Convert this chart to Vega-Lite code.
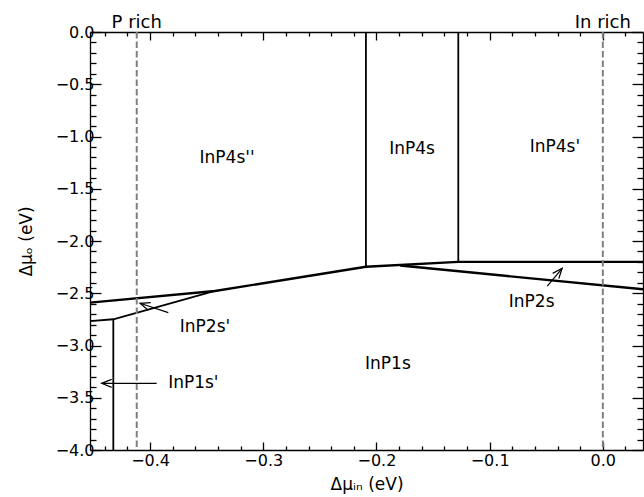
{
  "$schema": "https://vega.github.io/schema/vega-lite/v6.json",
  "width": 553,
  "height": 418,
  "autosize": {"type": "none"},
  "padding": {"left": 90, "top": 32, "right": 1, "bottom": 47},
  "config": {
    "font": "DejaVu Sans",
    "view": {"stroke": null},
    "axis": {
      "domainColor": "black", "domainWidth": 1.3,
      "tickColor": "black", "tickWidth": 1.3,
      "labelColor": "black", "titleColor": "black",
      "grid": false,
      "labelFont": "DejaVu Sans", "titleFont": "DejaVu Sans",
      "labelFontSize": 16, "titleFontSize": 17, "titleFontWeight": "normal"
    }
  },
  "datasets": {
    "thick": [
      {"seg": "A", "ord": 1, "x": -0.4531, "y": -2.590},
      {"seg": "A", "ord": 2, "x": -0.3427, "y": -2.478},
      {"seg": "A", "ord": 3, "x": -0.2093, "y": -2.246},
      {"seg": "A", "ord": 4, "x": -0.1277, "y": -2.200},
      {"seg": "A", "ord": 5, "x": 0.0355, "y": -2.200},
      {"seg": "B", "ord": 1, "x": -0.1790, "y": -2.235},
      {"seg": "B", "ord": 2, "x": 0.0355, "y": -2.462}
    ],
    "thin": [
      {"seg": "C", "ord": 1, "x": -0.4531, "y": -2.766},
      {"seg": "C", "ord": 2, "x": -0.4325, "y": -2.749},
      {"seg": "C", "ord": 3, "x": -0.3427, "y": -2.478},
      {"seg": "D", "ord": 1, "x": -0.4325, "y": -2.749},
      {"seg": "D", "ord": 2, "x": -0.4325, "y": -4.0},
      {"seg": "E", "ord": 1, "x": -0.2093, "y": 0.0},
      {"seg": "E", "ord": 2, "x": -0.2093, "y": -2.246},
      {"seg": "F", "ord": 1, "x": -0.1277, "y": 0.0},
      {"seg": "F", "ord": 2, "x": -0.1277, "y": -2.200}
    ],
    "limits": [
      {"name": "P rich", "x": -0.4118},
      {"name": "In rich", "x": 0.0}
    ],
    "regions": [
      {"label": "InP4s''", "x": -0.332, "y": -1.206},
      {"label": "InP4s", "x": -0.1686, "y": -1.12},
      {"label": "InP4s'", "x": -0.0423, "y": -1.10},
      {"label": "InP1s", "x": -0.1899, "y": -3.177},
      {"label": "InP2s", "x": -0.0629, "y": -2.581},
      {"label": "InP2s'", "x": -0.3515, "y": -2.82},
      {"label": "InP1s'", "x": -0.3618, "y": -3.356}
    ],
    "shafts": [
      {"arrow": "InP2s'", "ord": 1, "x": -0.3839, "y": -2.686},
      {"arrow": "InP2s'", "ord": 2, "x": -0.4089, "y": -2.596},
      {"arrow": "InP1s'", "ord": 1, "x": -0.3942, "y": -3.362},
      {"arrow": "InP1s'", "ord": 2, "x": -0.4428, "y": -3.362},
      {"arrow": "InP2s", "ord": 1, "x": -0.0491, "y": -2.431},
      {"arrow": "InP2s", "ord": 2, "x": -0.0359, "y": -2.261}
    ]
  },
  "layer": [
    {
      "data": {"name": "thick"},
      "mark": {"type": "line", "color": "black", "strokeWidth": 2.4, "clip": true},
      "encoding": {
        "x": {
          "field": "x", "type": "quantitative",
          "scale": {"domain": [-0.4531, 0.0355], "nice": false, "zero": false},
          "axis": {
            "orient": "bottom",
            "title": "Δμᵢₙ (eV)",
            "values": [-0.44, -0.42, -0.4, -0.38, -0.36, -0.34, -0.32, -0.3, -0.28, -0.26, -0.24, -0.22, -0.2, -0.18, -0.16, -0.14, -0.12, -0.1, -0.08, -0.06, -0.04, -0.02, 0, 0.02],
            "labelExpr": "abs(datum.value*10 - round(datum.value*10)) < 0.001 ? format(datum.value, '.1f') : ''",
            "tickSize": {"condition": {"test": "abs(datum.value*10 - round(datum.value*10)) < 0.001", "value": -8}, "value": -4},
            "labelPadding": 10,
            "labelFlush": false,
            "labelOverlap": false,
            "titlePadding": 4
          }
        },
        "y": {
          "field": "y", "type": "quantitative",
          "scale": {"domain": [-4, 0], "nice": false, "zero": false},
          "axis": {
            "orient": "left",
            "title": "Δμₒ (eV)",
            "values": [-4, -3.9, -3.8, -3.7, -3.6, -3.5, -3.4, -3.3, -3.2, -3.1, -3, -2.9, -2.8, -2.7, -2.6, -2.5, -2.4, -2.3, -2.2, -2.1, -2, -1.9, -1.8, -1.7, -1.6, -1.5, -1.4, -1.3, -1.2, -1.1, -1, -0.9, -0.8, -0.7, -0.6, -0.5, -0.4, -0.3, -0.2, -0.1, 0],
            "labelExpr": "abs(datum.value*2 - round(datum.value*2)) < 0.001 ? format(datum.value, '.1f') : ''",
            "tickSize": {"condition": {"test": "abs(datum.value*2 - round(datum.value*2)) < 0.001", "value": -11}, "value": -6},
            "labelPadding": 7,
            "labelFlush": false,
            "labelOverlap": false,
            "titlePadding": 20
          }
        },
        "detail": {"field": "seg"},
        "order": {"field": "ord", "type": "quantitative"}
      }
    },
    {
      "data": {"name": "thin"},
      "mark": {"type": "line", "color": "black", "strokeWidth": 1.8, "clip": true},
      "encoding": {
        "x": {"field": "x", "type": "quantitative", "axis": null},
        "y": {
          "field": "y", "type": "quantitative",
          "axis": {
            "orient": "right",
            "title": null,
            "labels": false,
            "values": [-4, -3.9, -3.8, -3.7, -3.6, -3.5, -3.4, -3.3, -3.2, -3.1, -3, -2.9, -2.8, -2.7, -2.6, -2.5, -2.4, -2.3, -2.2, -2.1, -2, -1.9, -1.8, -1.7, -1.6, -1.5, -1.4, -1.3, -1.2, -1.1, -1, -0.9, -0.8, -0.7, -0.6, -0.5, -0.4, -0.3, -0.2, -0.1, 0],
            "tickSize": {"condition": {"test": "abs(datum.value*2 - round(datum.value*2)) < 0.001", "value": -11}, "value": -6}
          }
        },
        "detail": {"field": "seg"},
        "order": {"field": "ord", "type": "quantitative"}
      }
    },
    {
      "data": {"name": "limits"},
      "mark": {"type": "rule", "color": "#808080", "strokeWidth": 2, "strokeDash": [6.5, 3]},
      "encoding": {
        "x": {
          "field": "x", "type": "quantitative",
          "axis": {
            "orient": "top",
            "title": null,
            "labels": false,
            "values": [-0.44, -0.42, -0.4, -0.38, -0.36, -0.34, -0.32, -0.3, -0.28, -0.26, -0.24, -0.22, -0.2, -0.18, -0.16, -0.14, -0.12, -0.1, -0.08, -0.06, -0.04, -0.02, 0, 0.02],
            "tickSize": {"condition": {"test": "abs(datum.value*10 - round(datum.value*10)) < 0.001", "value": -8}, "value": -4}
          }
        }
      }
    },
    {
      "data": {"name": "limits"},
      "mark": {"type": "text", "fontSize": 18, "baseline": "alphabetic", "align": "center", "dy": -4, "color": "black"},
      "encoding": {
        "x": {"field": "x", "type": "quantitative", "axis": null},
        "y": {"datum": 0, "type": "quantitative", "axis": null},
        "text": {"field": "name"}
      }
    },
    {
      "data": {"name": "regions"},
      "mark": {"type": "text", "fontSize": 17, "baseline": "middle", "align": "center", "color": "black"},
      "encoding": {
        "x": {"field": "x", "type": "quantitative", "axis": null},
        "y": {"field": "y", "type": "quantitative", "axis": null},
        "text": {"field": "label"}
      }
    },
    {
      "data": {"name": "shafts"},
      "mark": {"type": "line", "color": "black", "strokeWidth": 1.2},
      "encoding": {
        "x": {"field": "x", "type": "quantitative", "axis": null},
        "y": {"field": "y", "type": "quantitative", "axis": null},
        "detail": {"field": "arrow"},
        "order": {"field": "ord", "type": "quantitative"}
      }
    },
    {
      "data": {"name": "shafts"},
      "transform": [{"filter": "datum.arrow == \"InP2s'\" && datum.ord == 2"}],
      "mark": {"type": "point", "shape": "M -1 -0.4 L 0 0 L -1 0.4", "size": 400, "filled": false, "stroke": "black", "strokeWidth": 1.2, "opacity": 1, "angle": 198},
      "encoding": {
        "x": {"field": "x", "type": "quantitative", "axis": null},
        "y": {"field": "y", "type": "quantitative", "axis": null}
      }
    },
    {
      "data": {"name": "shafts"},
      "transform": [{"filter": "datum.arrow == \"InP1s'\" && datum.ord == 2"}],
      "mark": {"type": "point", "shape": "M -1 -0.4 L 0 0 L -1 0.4", "size": 400, "filled": false, "stroke": "black", "strokeWidth": 1.2, "opacity": 1, "angle": 180},
      "encoding": {
        "x": {"field": "x", "type": "quantitative", "axis": null},
        "y": {"field": "y", "type": "quantitative", "axis": null}
      }
    },
    {
      "data": {"name": "shafts"},
      "transform": [{"filter": "datum.arrow == \"InP2s\" && datum.ord == 2"}],
      "mark": {"type": "point", "shape": "M -1 -0.4 L 0 0 L -1 0.4", "size": 400, "filled": false, "stroke": "black", "strokeWidth": 1.2, "opacity": 1, "angle": 310},
      "encoding": {
        "x": {"field": "x", "type": "quantitative", "axis": null},
        "y": {"field": "y", "type": "quantitative", "axis": null}
      }
    }
  ],
  "resolve": {"axis": {"x": "independent", "y": "independent"}}
}
